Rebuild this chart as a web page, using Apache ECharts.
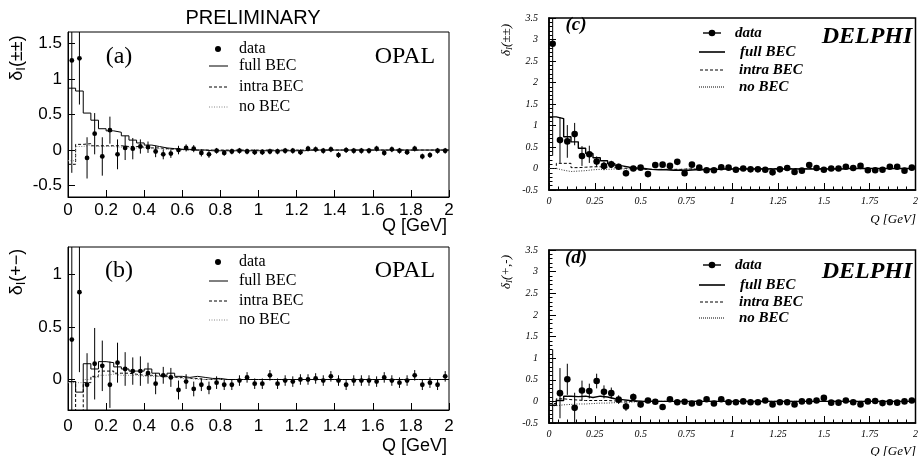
<!DOCTYPE html>
<html><head><meta charset="utf-8">
<script src="https://cdn.jsdelivr.net/npm/echarts@6/dist/echarts.min.js"></script>
<style>html,body{margin:0;padding:0;background:#fff}#c{width:921px;height:456px}</style>
</head><body><div id="c"></div>
<script>
// ---------- data ----------
const binEdges = [0,0.04,0.08,0.12,0.16,0.2,0.24,0.28,0.32,0.36,0.4,0.44,0.48,0.52,0.56,0.6,0.64,0.68,0.72,0.76,0.8,0.84,0.88,0.92,0.96,1.0,1.04,1.08,1.12,1.16,1.2,1.24,1.28,1.32,1.36,1.4,1.44,1.48,1.52,1.56,1.6,1.64,1.68,1.72,1.76,1.8,1.84,1.88,1.92,1.96,2.0];
const qCenters = [0.02,0.06,0.1,0.14,0.18,0.22,0.26,0.3,0.34,0.38,0.42,0.46,0.5,0.54,0.58,0.62,0.66,0.7,0.74,0.78,0.82,0.86,0.9,0.94,0.98,1.02,1.06,1.1,1.14,1.18,1.22,1.26,1.3,1.34,1.38,1.42,1.46,1.5,1.54,1.58,1.62,1.66,1.7,1.74,1.78,1.82,1.86,1.9,1.94,1.98];

// (a) OPAL like-sign
const aData = [1.26,1.29,-0.11,0.23,-0.09,0.28,-0.06,0.03,0.02,0.05,0.04,-0.02,-0.06,-0.05,0.00,0.03,0.02,-0.04,-0.06,-0.01,-0.04,-0.02,-0.01,-0.02,-0.03,-0.03,-0.02,-0.02,-0.01,-0.01,-0.03,0.02,0.01,-0.01,0.01,-0.07,0.00,-0.01,-0.01,-0.01,0.02,-0.04,0.01,-0.01,-0.03,0.02,-0.09,-0.07,-0.01,-0.01];
const aErr = [1.58,0.65,0.29,0.29,0.27,0.19,0.21,0.17,0.15,0.10,0.08,0.08,0.07,0.06,0.06,0.05,0.05,0.05,0.05,0.04,0.04,0.04,0.04,0.04,0.04,0.04,0.04,0.04,0.04,0.04,0.04,0.04,0.04,0.04,0.04,0.04,0.04,0.04,0.04,0.04,0.04,0.04,0.04,0.04,0.04,0.04,0.04,0.04,0.04,0.04];
const aFull = [0.87,0.83,0.52,0.42,0.30,0.27,0.25,0.20,0.14,0.10,0.07,0.05,0.03,0.02,0.01,0.01,0.00,0.00,-0.01,-0.01,-0.01,-0.01,-0.01,-0.01,-0.01,-0.01,-0.01,-0.01,-0.01,-0.01,-0.01,0.00,0.00,0.00,0.00,0.00,0.00,0.00,0.00,0.00,0.00,0.00,0.00,0.00,0.00,0.00,0.00,0.00,0.00,0.00];
const aIntra = [-0.20,0.08,0.09,0.06,0.06,0.06,0.06,0.05,0.05,0.04,0.03,0.03,0.02,0.01,0.01,0.00,0.00,0.00,0.00,0.00,0.00,0.00,0.00,0.00,0.00,0.00,0.00,0.00,0.00,0.00,0.00,0.00,0.00,0.00,0.00,0.00,0.00,0.00,0.00,0.00,0.00,0.00,0.00,0.00,0.00,0.00,0.00,0.00,0.00,0.00];
const aNo = [-0.15,0.05,0.07,0.05,0.05,0.05,0.04,0.04,0.03,0.03,0.02,0.02,0.01,0.01,0.00,0.00,0.00,0.00,0.00,0.00,0.00,0.00,0.00,0.00,0.00,0.00,0.00,0.00,0.00,0.00,0.00,0.00,0.00,0.00,0.00,0.00,0.00,0.00,0.00,0.00,0.00,0.00,0.00,0.00,0.00,0.00,0.00,0.00,0.00,0.00];

// (b) OPAL unlike-sign
const bData = [0.38,0.83,-0.05,0.15,0.13,-0.05,0.16,0.10,0.08,0.08,0.06,-0.04,0.04,0.02,-0.10,-0.02,-0.09,-0.05,-0.08,-0.03,-0.05,-0.05,-0.01,0.02,-0.04,-0.04,0.04,-0.04,-0.01,-0.02,0.00,0.00,0.01,-0.01,0.03,-0.01,-0.05,-0.01,-0.01,-0.01,-0.02,0.02,-0.01,-0.03,-0.01,0.04,-0.05,-0.03,-0.05,0.03];
const bErr = [1.70,0.76,0.30,0.34,0.24,0.22,0.19,0.16,0.13,0.14,0.10,0.10,0.08,0.09,0.09,0.07,0.07,0.06,0.06,0.06,0.05,0.05,0.05,0.05,0.05,0.05,0.05,0.05,0.05,0.05,0.05,0.05,0.05,0.05,0.05,0.05,0.05,0.05,0.05,0.05,0.05,0.05,0.05,0.05,0.05,0.05,0.05,0.05,0.05,0.05];
const bFull = [-0.02,-0.12,0.15,0.10,0.17,0.16,0.12,0.10,0.08,0.08,0.10,0.06,0.04,0.06,0.03,0.02,0.03,0.02,0.01,0.01,0.00,0.00,0.00,0.00,0.00,0.00,0.00,0.00,0.00,0.00,0.00,0.00,0.00,0.00,0.00,0.00,0.00,0.00,0.00,0.00,0.00,0.00,0.00,0.00,0.00,0.00,0.00,0.00,0.00,0.00];
const bIntra = [-0.02,-0.45,-0.03,0.03,0.08,0.08,0.06,0.06,0.05,0.04,0.04,0.03,0.03,0.02,0.02,0.01,0.01,0.00,0.00,0.00,0.00,0.00,0.00,0.00,0.00,0.00,0.00,0.00,0.00,0.00,0.00,0.00,0.00,0.00,0.00,0.00,0.00,0.00,0.00,0.00,0.00,0.00,0.00,0.00,0.00,0.00,0.00,0.00,0.00,0.00];
const bNo = [-0.03,-0.03,0.00,0.02,0.04,0.05,0.04,0.04,0.04,0.03,0.03,0.03,0.02,0.02,0.01,0.01,0.00,0.00,0.00,0.00,0.00,0.00,0.00,0.00,0.00,0.00,0.00,0.00,0.00,0.00,0.00,0.00,0.00,0.00,0.00,0.00,0.00,0.00,0.00,0.00,0.00,0.00,0.00,0.00,0.00,0.00,0.00,0.00,0.00,0.00];

// (c) DELPHI like-sign
const cData = [2.90,0.66,0.63,0.80,0.29,0.33,0.16,0.06,0.10,0.04,-0.11,0.00,0.02,-0.13,0.08,0.09,0.06,0.155,-0.11,0.09,0.02,-0.04,-0.04,0.03,0.02,-0.03,0.00,-0.02,-0.02,-0.03,-0.09,-0.02,0.01,-0.08,-0.05,0.08,0.01,-0.03,0.00,0.00,0.04,0.01,0.06,-0.04,-0.04,-0.03,0.04,0.04,-0.05,0.02];
const cErr = [2.60,0.53,0.38,0.26,0.23,0.20,0.12,0.10,0.08,0.07,0.07,0.06,0.06,0.05,0.05,0.05,0.05,0.04,0.04,0.04,0.03,0.03,0.03,0.03,0.03,0.03,0.03,0.03,0.03,0.03,0.03,0.03,0.03,0.03,0.03,0.03,0.03,0.03,0.03,0.03,0.03,0.03,0.03,0.03,0.03,0.03,0.03,0.03,0.03,0.03];
const cFull = [1.20,1.16,0.74,0.62,0.47,0.35,0.25,0.18,0.11,0.06,0.03,0.01,0.00,-0.02,-0.03,-0.03,-0.04,-0.04,-0.04,-0.03,-0.03,-0.02,-0.02,-0.01,-0.01,-0.01,-0.01,-0.01,-0.01,-0.01,-0.01,-0.01,-0.01,-0.01,-0.01,-0.01,-0.01,-0.01,-0.01,-0.01,0.00,0.00,0.00,0.00,0.00,0.00,0.00,0.00,0.00,0.00];
const cIntra = [0.00,0.12,0.12,0.02,0.03,0.04,0.04,0.03,0.02,0.01,0.00,-0.01,-0.02,-0.02,-0.02,-0.02,-0.02,-0.02,-0.01,-0.01,-0.01,-0.01,-0.01,-0.01,-0.01,0.00,0.00,0.00,0.00,0.00,0.00,0.00,0.00,0.00,0.00,0.00,0.00,0.00,0.00,0.00,0.00,0.00,0.00,0.00,0.00,0.00,0.00,0.00,0.00,0.00];
const cNo = [0.00,-0.04,-0.07,-0.06,-0.05,-0.03,-0.02,-0.02,-0.01,-0.01,-0.01,-0.01,-0.02,-0.02,-0.02,-0.02,-0.02,-0.02,-0.01,-0.01,-0.01,-0.01,-0.01,-0.01,-0.01,0.00,0.00,0.00,0.00,0.00,0.00,0.00,0.00,0.00,0.00,0.00,0.00,0.00,0.00,0.00,0.00,0.00,0.00,0.00,0.00,0.00,0.00,0.00,0.00,0.00];

// (d) DELPHI unlike-sign
const dData = [-0.65,0.19,0.51,-0.15,0.25,0.24,0.47,0.22,0.19,0.04,-0.12,0.10,-0.07,0.02,-0.01,-0.13,0.05,-0.02,-0.01,-0.05,-0.03,0.05,-0.05,0.05,-0.02,-0.02,0.00,-0.02,-0.02,0.02,-0.07,-0.02,-0.02,-0.07,0.00,0.00,0.02,0.08,-0.03,-0.03,0.02,-0.02,-0.07,0.00,0.01,-0.04,-0.02,-0.03,0.00,0.02];
const dErr = [1.85,0.58,0.36,0.35,0.23,0.17,0.17,0.15,0.13,0.10,0.10,0.08,0.07,0.05,0.05,0.05,0.04,0.04,0.04,0.04,0.03,0.03,0.03,0.03,0.03,0.03,0.03,0.03,0.03,0.03,0.03,0.03,0.03,0.03,0.03,0.03,0.03,0.03,0.03,0.03,0.03,0.03,0.03,0.03,0.03,0.03,0.03,0.03,0.03,0.03];
const dFull = [-0.09,0.02,0.12,0.11,0.12,0.09,0.12,0.10,0.06,0.04,0.02,0.01,0.00,0.00,0.00,0.00,0.00,0.00,0.00,0.00,0.00,0.00,0.00,0.00,0.00,0.00,0.00,0.00,0.00,0.00,0.00,0.00,0.00,0.00,0.00,0.00,0.00,0.00,0.00,0.00,0.00,0.00,0.00,0.00,0.00,0.00,0.00,0.00,0.00,0.00];
const dIntra = [-0.05,0.06,0.04,0.03,0.02,0.02,0.02,0.02,0.01,0.01,0.00,0.00,0.00,0.00,0.00,0.00,0.00,0.00,0.00,0.00,0.00,0.00,0.00,0.00,0.00,0.00,0.00,0.00,0.00,0.00,0.00,0.00,0.00,0.00,0.00,0.00,0.00,0.00,0.00,0.00,0.00,0.00,0.00,0.00,0.00,0.00,0.00,0.00,0.00,0.00];
const dNo = [-0.10,-0.08,-0.07,-0.06,-0.06,-0.05,-0.04,-0.04,-0.03,-0.02,-0.02,-0.01,-0.01,0.00,0.00,0.00,0.00,0.00,0.00,0.00,0.00,0.00,0.00,0.00,0.00,0.00,0.00,0.00,0.00,0.00,0.00,0.00,0.00,0.00,0.00,0.00,0.00,0.00,0.00,0.00,0.00,0.00,0.00,0.00,0.00,0.00,0.00,0.00,0.00,0.00];

const opalYTicksA = [-0.5,0,0.5,1,1.5];
const opalYTicksB = [0,0.5,1];
const seriesNames = ['data','full BEC','intra BEC','no BEC'];

// ---------- helpers ----------
const SANS = 'Liberation Sans', SERIF = 'Liberation Serif';
function stepData(vals){ const d = vals.map((v,i)=>[binEdges[i], v]); d.push([binEdges[binEdges.length-1], vals[vals.length-1]]); return d; }
function errRender(r){
  return function(params, api){
    const x = api.value(0), v = api.value(1), e = api.value(2);
    const cs = params.coordSys;
    const p = api.coord([x, v]);
    let t = api.coord([x, v + e])[1], b = api.coord([x, v - e])[1];
    const y0 = cs.y, y1 = cs.y + cs.height;
    t = Math.max(t, y0); b = Math.min(b, y1);
    const ch = [];
    if (b > t) ch.push({type:'line', shape:{x1:p[0], y1:t, x2:p[0], y2:b}, style:{stroke:'#000', lineWidth:1}});
    if (p[1] >= y0 && p[1] <= y1) ch.push({type:'circle', shape:{cx:p[0], cy:p[1], r:r}, style:{fill:'#000'}});
    return {type:'group', children:ch};
  };
}
function panelSeries(idx, vals, errs, full, intra, none, delphi){
  const lw = delphi ? 1.4 : 1;
  return [
    {name:seriesNames[1], type:'line', xAxisIndex:idx, yAxisIndex:idx, data:stepData(full), step:'end', showSymbol:false, silent:true, lineStyle:{color:'#000', width:lw}, z:3},
    {name:seriesNames[2], type:'line', xAxisIndex:idx, yAxisIndex:idx, data:stepData(intra), step:'end', showSymbol:false, silent:true, lineStyle:{color:'#000', width:1, type:[3,2]}, z:2},
    {name:seriesNames[3], type:'line', xAxisIndex:idx, yAxisIndex:idx, data:stepData(none), step:'end', showSymbol:false, silent:true, lineStyle:{color: delphi ? '#333' : '#888', width:1, type:[1,1.5]}, z:2},
    {name:seriesNames[0], type:'custom', xAxisIndex:idx, yAxisIndex:idx, data:qCenters.map((q,i)=>[q, vals[i], errs[i]]), renderItem:errRender(delphi ? 3.3 : 2.4), encode:{x:0, y:1}, clip:false, silent:true, z:5}
  ];
}
function opalX(idx, margin){
  return {gridIndex:idx, type:'value', min:0, max:2, interval:0.2,
    axisLine:{show:true, onZero:false, lineStyle:{color:'#000', width:1}},
    axisTick:{show:true, inside:true, length:7, lineStyle:{color:'#000'}},
    axisLabel:{color:'#000', fontFamily:SANS, fontSize:17, margin:margin, showMinLabel:true, showMaxLabel:true},
    splitLine:{show:false}};
}
function opalY(idx, min, max, ticks){
  return {gridIndex:idx, type:'value', min:min, max:max,
    axisLine:{show:true, onZero:false, lineStyle:{color:'#000', width:1}},
    axisTick:{show:true, inside:true, length:7, customValues:ticks, lineStyle:{color:'#000'}},
    axisLabel:{color:'#000', fontFamily:SANS, fontSize:17, margin:6, customValues:ticks},
    splitLine:{show:false}};
}
function delphiX(idx){
  return {gridIndex:idx, type:'value', min:0, max:2, interval:0.25,
    axisLine:{show:true, onZero:false, lineStyle:{color:'#000', width:1.5}},
    axisTick:{show:true, inside:true, length:7, lineStyle:{color:'#000'}},
    minorTick:{show:true, splitNumber:5, length:3.5, lineStyle:{color:'#000'}},
    axisLabel:{color:'#000', fontFamily:SERIF, fontStyle:'italic', fontSize:10, margin:6, showMinLabel:true, showMaxLabel:true},
    splitLine:{show:false}};
}
function delphiY(idx){
  return {gridIndex:idx, type:'value', min:-0.5, max:3.5, interval:0.5,
    axisLine:{show:true, onZero:false, lineStyle:{color:'#000', width:1.5}},
    axisTick:{show:true, inside:true, length:7, lineStyle:{color:'#000'}},
    minorTick:{show:true, splitNumber:5, length:3.5, lineStyle:{color:'#000'}},
    axisLabel:{color:'#000', fontFamily:SERIF, fontStyle:'italic', fontSize:10, margin:11, showMinLabel:true, showMaxLabel:true},
    splitLine:{show:false}};
}
function txt(x, y, text, font, align, extra){
  return Object.assign({type:'text', x:x, y:y, silent:true, style:{text:text, font:font, fill:'#000', textAlign:align||'left', textVerticalAlign:'middle'}}, extra||{});
}
function ln(x1, y1, x2, y2, dash, color, w){
  return {type:'line', silent:true, shape:{x1:x1,y1:y1,x2:x2,y2:y2}, style:{stroke:color||'#000', lineWidth:w||1, lineDash:dash||null}};
}
function opalLegend(ys){
  const f = '16px ' + SERIF;
  return [
    {type:'circle', silent:true, shape:{cx:218, cy:ys[0], r:3}, style:{fill:'#000'}},
    txt(239, ys[0], seriesNames[0], f),
    ln(209, ys[1], 228, ys[1]), txt(239, ys[1], seriesNames[1], f),
    ln(209, ys[2], 228, ys[2], [3,2]), txt(239, ys[2], seriesNames[2], f),
    ln(209, ys[3], 228, ys[3], [1,1.5], '#888'), txt(239, ys[3], seriesNames[3], f)
  ];
}
function delphiLegend(ys){
  const f = 'italic bold 15px ' + SERIF;
  return [
    ln(703, ys[0], 721, ys[0], null, '#000', 1.4),
    {type:'circle', silent:true, shape:{cx:712, cy:ys[0], r:3.3}, style:{fill:'#000'}},
    txt(735, ys[0], seriesNames[0], f),
    ln(699, ys[1], 725, ys[1], null, '#000', 1.6), txt(740, ys[1], seriesNames[1], f),
    ln(700, ys[2], 725, ys[2], [3,2], '#000', 1.2), txt(739, ys[2], seriesNames[2], f),
    ln(699, ys[3], 725, ys[3], [1,1], '#000', 1), txt(739, ys[3], seriesNames[3], f)
  ];
}
function yLabel(x, y, sign, size, italic){
  const st = italic ? 'italic' : 'normal';
  const fam = italic ? SERIF : SANS;
  return {type:'text', x:x, y:y, rotation:Math.PI/2, silent:true,
    style:{text:'{m|δ}{s|I}{m|' + sign + '}', textAlign:'center', textVerticalAlign:'middle',
      rich:{m:{fontSize:size, fontFamily:fam, fontStyle:st, fill:'#000', lineHeight:size+4, verticalAlign:'middle'},
            s:{fontSize:Math.round(size*0.7), fontFamily:fam, fontStyle:st, fill:'#000', padding:[Math.round(size*0.45),0,0,0], verticalAlign:'middle'}}}};
}

// ---------- chart ----------
const chart = echarts.init(document.getElementById('c'), null, {renderer:'canvas'});
const graphics = [].concat(
  [txt(253, 18, 'PRELIMINARY', '20px ' + SANS, 'center')],
  [txt(119, 57, '(a)', '24px ' + SERIF, 'center'), txt(405, 57, 'OPAL', '24px ' + SERIF, 'center')],
  opalLegend([49, 66, 87, 107]),
  [txt(447, 226, 'Q [GeV]', '18px ' + SANS, 'right'), yLabel(17, 58, '(±±)', 18, false)],
  [txt(119, 271, '(b)', '24px ' + SERIF, 'center'), txt(405, 271, 'OPAL', '24px ' + SERIF, 'center')],
  opalLegend([262, 281, 301, 320]),
  [txt(447, 446, 'Q [GeV]', '18px ' + SANS, 'right'), yLabel(17, 272, '(+−)', 18, false)],
  [txt(576, 25, '(c)', 'italic bold 19px ' + SERIF, 'center'), txt(867, 37, 'DELPHI', 'italic bold 24px ' + SERIF, 'center')],
  delphiLegend([33, 52, 70, 87]),
  [txt(916, 220, 'Q [GeV]', 'italic 13px ' + SERIF, 'right'), yLabel(507, 40, '(±±)', 13, true)],
  [txt(576, 258, '(d)', 'italic bold 19px ' + SERIF, 'center'), txt(867, 272, 'DELPHI', 'italic bold 24px ' + SERIF, 'center')],
  delphiLegend([265, 285, 302, 318]),
  [txt(916, 452, 'Q [GeV]', 'italic 13px ' + SERIF, 'right'), yLabel(507, 272, '(+,-)', 13, true)]
);

chart.setOption({
  animation:false,
  backgroundColor:'#fff',
  grid:[
    {left:68, top:32, width:381, height:165, show:true, borderColor:'#000', borderWidth:1, backgroundColor:'transparent'},
    {left:68, top:247, width:381, height:163, show:true, borderColor:'#000', borderWidth:1, backgroundColor:'transparent'},
    {left:549, top:18, width:367, height:172, show:true, borderColor:'#000', borderWidth:1.5, backgroundColor:'transparent'},
    {left:549, top:250, width:367, height:173, show:true, borderColor:'#000', borderWidth:1.5, backgroundColor:'transparent'}
  ],
  xAxis:[opalX(0, 5), opalX(1, 8), delphiX(2), delphiX(3)],
  yAxis:[opalY(0, -0.66, 1.66, opalYTicksA), opalY(1, -0.29, 1.26, opalYTicksB), delphiY(2), delphiY(3)],
  series:[].concat(
    panelSeries(0, aData, aErr, aFull, aIntra, aNo, false),
    panelSeries(1, bData, bErr, bFull, bIntra, bNo, false),
    panelSeries(2, cData, cErr, cFull, cIntra, cNo, true),
    panelSeries(3, dData, dErr, dFull, dIntra, dNo, true)
  ),
  graphic:graphics
});
</script>
</body></html>
